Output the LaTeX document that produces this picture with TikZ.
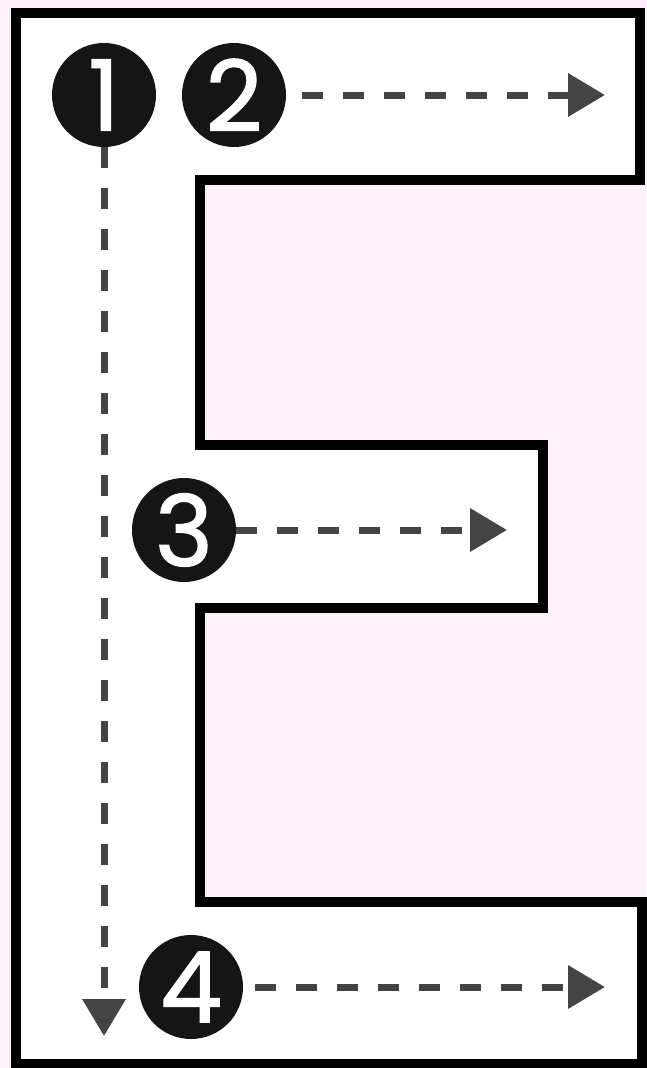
\documentclass[tikz,border=0pt]{standalone}
\usepackage{fontspec}
\newfontfamily\digitfont{Poppins}[FakeBold=1.6]
\usepackage{tikz}
\usetikzlibrary{arrows.meta,positioning}

\definecolor{pagepink}{HTML}{FEF1F9}
\definecolor{dotblack}{HTML}{151515}
\definecolor{flowgray}{HTML}{444444}

\begin{document}
\begin{tikzpicture}[x=1pt, y=-1pt,
  numdot/.style={circle, fill=dotblack, minimum size=104pt, inner sep=0pt, outer sep=0pt,
    text=white, font=\digitfont\fontsize{98}{98}\selectfont},
  flowarrow/.style={draw=flowgray, line width=7pt, dash pattern=on 21pt off 20pt,
    -{Triangle[length=37pt, width=42pt]}, flowgray}]

  % Background
  \fill[pagepink] (0,0) rectangle (646,1068);
  \useasboundingbox (0,0) rectangle (646,1068);

  % E shape
  \filldraw[fill=white, draw=black, line width=10pt, line join=miter]
    (16,13) -- (640,13) -- (640,180) -- (200,180) -- (200,445) -- (543,445) -- (543,608)
    -- (200,608) -- (200,902) -- (642,902) -- (642,1064) -- (16,1064) -- cycle;

  % Numbers
  \node[numdot] (one) at (104,95) {1};
  \node[numdot] (two) at (234,95) {2};
  \node[numdot] (three) at (184,530) {3};
  \node[numdot] (four) at (191,987) {4};

  % Arrow ends
  \coordinate (endone) at (104,1036);
  \coordinate (endtwo) at (605,95);
  \coordinate (endthree) at (507,530);
  \coordinate (endfour) at (605,987);

  % Arrows
  \draw[flowarrow] (one.south) -- (endone);
  \draw[flowarrow] ([xshift=16pt]two.east) -- (endtwo);
  \draw[flowarrow] (three.east) -- (endthree);
  \draw[flowarrow] ([xshift=12pt]four.east) -- (endfour);
\end{tikzpicture}
\end{document}
